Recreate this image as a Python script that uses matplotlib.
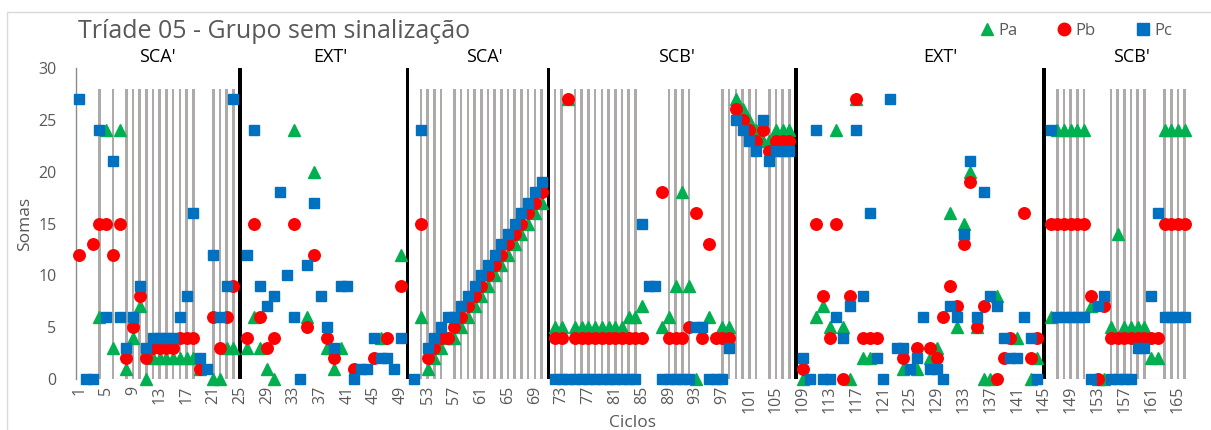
import numpy as np
from matplotlib import pyplot as plt
from matplotlib.lines import Line2D
from matplotlib.patches import Rectangle

plt.rcParams['font.family'] = ['Open Sans', 'DejaVu Sans']

cycles = np.arange(1, 167)

# None = no visible point for that cycle
pa = [None, None, None, 6, 24, 3, 24, 1, 4, 7,          # 1-10
      0, 2, 2, 2, 2, 2, 2, 2, 1, None,                  # 11-20
      0, 0, 3, 3, None, 3, 6, 3, 1, 0,                  # 21-30
      None, None, 24, None, 6, 20, None, 3, 1, 3,       # 31-40
      None, None, None, None, None, 4, None, None, 12, None,  # 41-50
      None, 6, 1, 2, 3, 4, 4, 5, 6, 7,                  # 51-60
      8, 9, 10, 11, 12, 13, 14, 15, 16, 17,             # 61-70
      None, 5, 5, 27, 5, 5, 5, 5, 5, 5,                 # 71-80
      5, 5, 6, 6, 7, None, None, 5, 6, 9,               # 81-90
      18, 9, 0, None, 6, None, 5, 5, 27, 26,            # 91-100
      25, 24, 23, 23, 24, 24, 24, None, 0, None,        # 101-110
      6, 7, 5, 24, 5, 0, 27, 2, 2, None,                # 111-120
      None, None, None, 1, None, 1, None, 2, 3, None,   # 121-130
      16, 5, 15, 20, 5, 0, 0, 8, None, None,            # 131-140
      4, None, 0, 2, None, 6, 24, 24, 24, 24,           # 141-150
      24, 7, 0, 0, 5, 14, 5, 5, 5, 5,                   # 151-160
      2, 2, 24, 24, 24, 24]                             # 161-166

pb = [12, None, 13, 15, 15, 12, 15, 2, 5, 8,
      2, 3, 3, 3, 3, 4, 4, 4, 1, None,
      6, 3, 6, 9, None, 4, 15, 6, 3, 4,
      None, None, 15, None, 5, 12, None, 4, 2, None,
      None, 1, None, None, 2, None, 4, None, 9, None,
      None, 15, 2, 3, 4, 4, 5, 6, 7, 8,
      9, 10, 11, 12, 13, 14, 15, 16, 17, 18,
      None, 4, 4, 27, 4, 4, 4, 4, 4, 4,
      4, 4, 4, 4, 4, None, None, 18, 4, 4,
      4, 5, 16, 4, 13, 4, 4, 4, 26, 25,
      24, 23, 24, 22, 23, 23, 23, None, 1, None,
      15, 8, 4, 15, 0, 8, 27, 4, 4, 4,
      None, None, None, 2, None, 3, None, 3, 2, 6,
      9, 7, 13, 19, 5, 7, None, 0, 2, 4,
      None, 16, 2, 4, None, 15, 15, 15, 15, 15,
      15, 8, 0, 7, 4, 4, 4, 4, 4, 4,
      4, 4, 15, 15, 15, 15]

pc = [27, 0, 0, 24, 6, 21, 6, 3, 6, 9,
      3, 4, 4, 4, 4, 6, 8, 16, 2, 1,
      12, 6, 9, 27, None, 12, 24, 9, 7, 8,
      18, 10, 6, 0, 11, 17, 8, 5, 3, 9,
      9, 0, 1, 1, 4, 2, 2, 1, 4, None,
      0, 24, 3, 4, 5, 6, 6, 7, 8, 9,
      10, 11, 12, 13, 14, 15, 16, 17, 18, 19,
      None, 0, 0, 0, 0, 0, 0, 0, 0, 0,
      0, 0, 0, 0, 15, 9, 9, 0, 0, 0,
      0, 0, 5, 5, 0, 0, 0, 3, 25, 24,
      23, 22, 25, 21, 22, 22, 22, None, 2, 0,
      24, 0, 0, 6, 4, 7, 24, 8, 16, 2,
      0, 27, 3, 3, 1, 2, 6, 1, 1, 0,
      7, 6, 14, 21, 6, 18, 8, 7, 4, 2,
      2, 6, 4, 0, None, 24, 6, 6, 6, 6,
      6, 0, 7, 8, 0, 0, 0, 0, 3, 3,
      8, 16, 6, 6, 6, 6]

pa = np.array(pa, dtype=float)
pb = np.array(pb, dtype=float)
pc = np.array(pc, dtype=float)

# cycles marked with a grey bar
grey_cycles = [4, 6, 8, 9, 10, 11, 12, 13, 14, 15, 16, 17, 18, 21, 22, 23, 24,
               52, 53, 54, 55, 57, 58, 59, 60, 61, 62, 63, 64, 65, 66, 67, 68, 69, 70,
               72, 73, 75, 76, 77, 78, 79, 80, 81, 82, 83, 84, 89, 90, 91, 92,
               97, 98, 99, 100, 101, 102, 104, 105, 106, 107,
               147, 148, 149, 150, 151, 155, 156, 157, 158, 159, 160, 163, 164, 165, 166]
grey_height = 28

# phase separators
phase_breaks = [25, 50, 71, 108, 145]
break_height = 30

phases = ["SCA'", "EXT'", "SCA'", "SCB'", "EXT'", "SCB'"]
phase_label_x = [12.6, 38.4, 61.5, 90.2, 129.5, 158.1]

gray_txt = '#595959'
W, H = 1211, 430

fig = plt.figure(figsize=(W / 100, H / 100), dpi=100)
fig.patches.append(Rectangle((7 / W, -0.05), 1.1, 1 - 12 / H + 0.05,
                             transform=fig.transFigure, fill=False,
                             edgecolor='#D9D9D9', lw=1))

ax = fig.add_axes([76 / W, (H - 379) / H, (1188 - 76) / W, (379 - 68) / H])

ax.bar(grey_cycles, [grey_height] * len(grey_cycles), width=0.38,
       color='#AEAAAA', zorder=1)
ax.bar(phase_breaks, [break_height] * len(phase_breaks), width=0.5,
       color='black', zorder=1)

ax.axhline(0, color='#8C8C8C', lw=0.8, ls=(0, (3, 3)), zorder=1.5)

ax.plot(cycles, pa, ls='none', marker='^', ms=8.5, color='#00B050',
        label='Pa', zorder=2, clip_on=False)
ax.plot(cycles, pb, ls='none', marker='o', ms=8.3, color='#FF0000',
        label='Pb', zorder=3, clip_on=False)
ax.plot(cycles, pc, ls='none', marker='s', ms=7.8, color='#0070C0',
        label='Pc', zorder=4, clip_on=False)

ax.set_xlim(0.5, 166.5)
ax.set_ylim(0, 30)
ax.set_yticks(range(0, 31, 5))
ax.set_xticks(cycles[::4])
ax.set_xticklabels([str(c) for c in cycles[::4]], rotation=90)
ax.tick_params(axis='both', length=0, labelsize=11.5, labelcolor=gray_txt)
ax.tick_params(axis='x', pad=5)
ax.tick_params(axis='y', pad=14)

for s in ['top', 'right', 'bottom']:
    ax.spines[s].set_visible(False)
ax.spines['left'].set_color('#8C8C8C')
ax.spines['left'].set_linewidth(1)

ax.set_ylabel('Somas', fontsize=12.5, color=gray_txt, labelpad=4)
ax.set_xlabel('Ciclos', fontsize=12.5, color=gray_txt, labelpad=1)

for name, xpos in zip(phases, phase_label_x):
    ax.text(xpos, 31.1, name, ha='center', va='center', fontsize=13,
            color='black', clip_on=False)

fig.text(78 / W, 1 - 32 / H, 'Tríade 05 - Grupo sem sinalização',
         ha='left', va='center', fontsize=18, color=gray_txt)

handles = [Line2D([], [], ls='none', marker='^', ms=9, color='#00B050'),
           Line2D([], [], ls='none', marker='o', ms=9, color='#FF0000'),
           Line2D([], [], ls='none', marker='s', ms=8, color='#0070C0')]
leg = fig.legend(handles, ['Pa', 'Pb', 'Pc'], loc='center',
                 bbox_to_anchor=(1076 / W, 1 - 31 / H), ncol=3, frameon=False,
                 fontsize=12, handlelength=0.8, handletextpad=0.3,
                 columnspacing=2.4)
for t in leg.get_texts():
    t.set_color(gray_txt)

fig.savefig('out.png', dpi=100)
